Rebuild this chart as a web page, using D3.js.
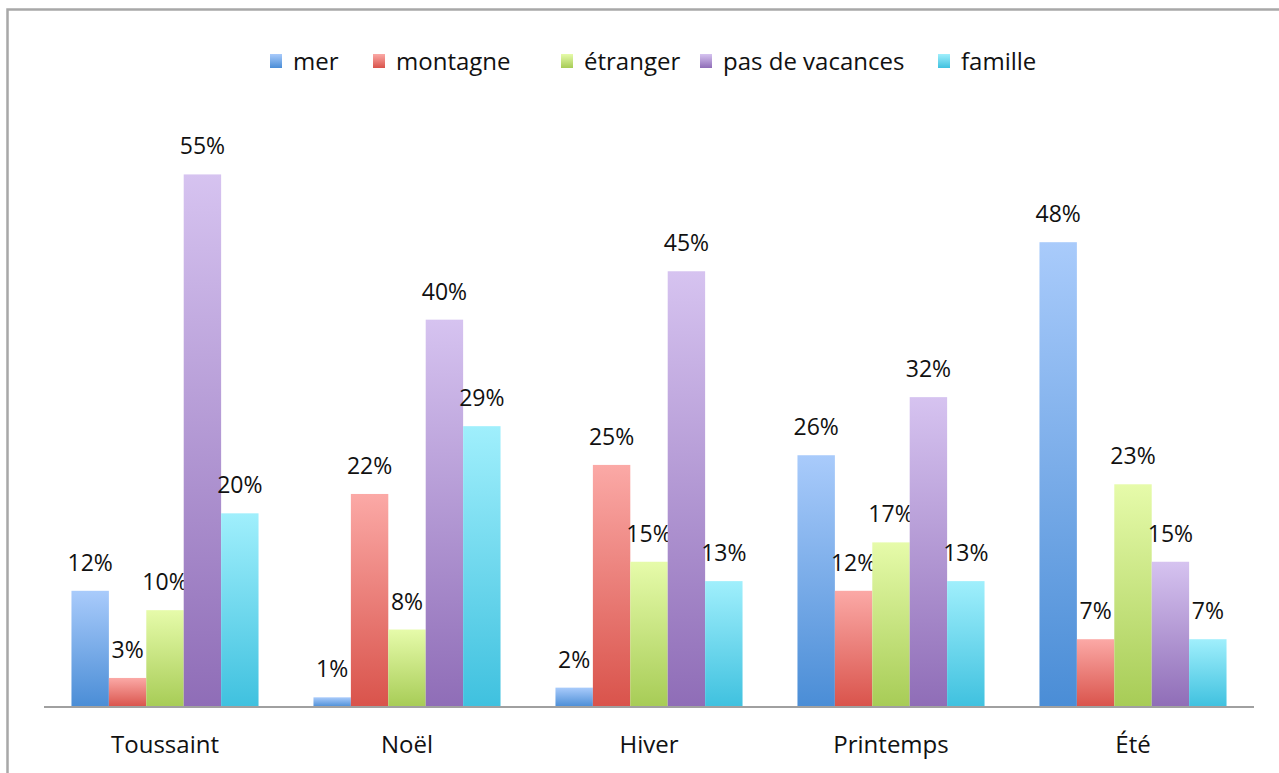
<!DOCTYPE html>
<html>
<head>
<meta charset="utf-8">
<script src="https://cdn.jsdelivr.net/npm/d3@7"></script>
<style>
  html, body { margin: 0; padding: 0; background: #fff; }
  svg { display: block; }
  text { font-family: "Open Sans", Lato, sans-serif; fill: #111; }
</style>
</head>
<body>
<svg id="chart" width="1279" height="773"></svg>
<script>
const categories = ["Toussaint", "Noël", "Hiver", "Printemps", "Été"];
const seriesNames = ["mer", "montagne", "étranger", "pas de vacances", "famille"];
const mer = [12, 1, 2, 26, 48];
const montagne = [3, 22, 25, 12, 7];
const etranger = [10, 8, 15, 17, 23];
const pasDeVacances = [55, 40, 45, 32, 15];
const famille = [20, 29, 13, 13, 7];
const seriesValues = [mer, montagne, etranger, pasDeVacances, famille];
const colorsTop = ["#a9cbfb", "#fba9a6", "#e6fbaa", "#d6c3f0", "#a0effc"];
const colorsBottom = ["#4a8dd6", "#d9534b", "#a7cc56", "#8f6db7", "#3fc1df"];

const svg = d3.select("#chart");
const W = 1279, H = 773;

// outer border
svg.append("rect").attr("x", 7.5).attr("y", 9.5).attr("width", W + 10).attr("height", H + 10)
  .attr("fill", "none").attr("stroke", "#a8a8a8").attr("stroke-width", 2.5);

const defs = svg.append("defs");
seriesNames.forEach((s, i) => {
  const g = defs.append("linearGradient").attr("id", "grad" + i)
    .attr("x1", 0).attr("y1", 0).attr("x2", 0).attr("y2", 1);
  g.append("stop").attr("offset", "0%").attr("stop-color", colorsTop[i]);
  g.append("stop").attr("offset", "100%").attr("stop-color", colorsBottom[i]);
});

const margin = { left: 44, right: 25, top: 126, bottom: 66 };
const x0 = d3.scaleBand().domain(categories).range([margin.left, W - margin.right]).paddingInner(0.227).paddingOuter(0.1135);
const x1 = d3.scaleBand().domain(seriesNames).range([0, x0.bandwidth()]);
const y = d3.scaleLinear().domain([0, 60]).range([H - margin.bottom, margin.top]);

const groups = svg.append("g").selectAll("g").data(categories).join("g")
  .attr("transform", d => `translate(${x0(d)},0)`);

groups.each(function(cat, ci) {
  const g = d3.select(this);
  seriesNames.forEach((s, si) => {
    const v = seriesValues[si][ci];
    g.append("rect")
      .attr("x", x1(s)).attr("width", x1.bandwidth())
      .attr("y", y(v)).attr("height", y(0) - y(v))
      .attr("fill", `url(#grad${si})`);
    g.append("text")
      .attr("x", x1(s) + x1.bandwidth() / 2)
      .attr("y", y(v) - 20)
      .attr("text-anchor", "middle")
      .attr("font-size", 23)
      .text(v + "%");
  });
});

// x axis
const xAxis = svg.append("g").attr("transform", `translate(0,${y(0)})`)
  .call(d3.axisBottom(x0).tickSize(0).tickPadding(0));
xAxis.select(".domain").attr("stroke", "#a0a0a0").attr("stroke-width", 2)
  .attr("d", `M${margin.left},0H${W - margin.right}`);
xAxis.selectAll("text").attr("font-size", 24).attr("fill", "#111")
  .attr("dy", null).attr("y", 46)
  .attr("font-family", "'Open Sans', Lato, sans-serif");

// legend
const legendX = [270, 373, 561, 700, 938];
const legend = svg.append("g");
seriesNames.forEach((s, i) => {
  const lg = legend.append("g").attr("transform", `translate(${legendX[i]},54)`);
  lg.append("rect").attr("width", 12).attr("height", 14).attr("fill", `url(#grad${i})`);
  lg.append("text").attr("x", 23).attr("y", 16).attr("font-size", 24).text(s);
});
</script>
</body>
</html>
